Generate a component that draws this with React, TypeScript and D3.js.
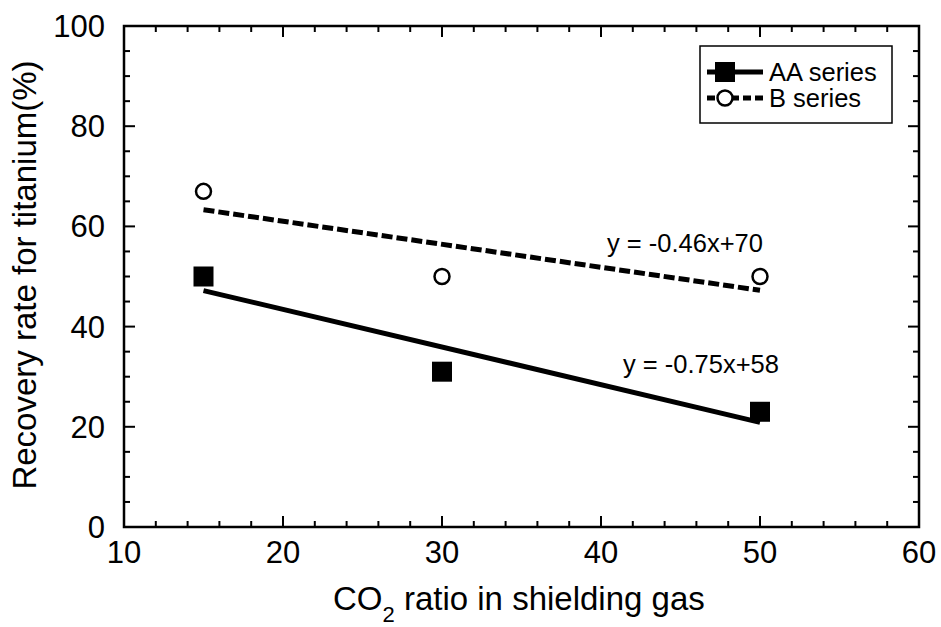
import React from "react";
import * as d3 from "d3";

const co2Ratio = [15, 30, 50];
const aaSeries = [50, 31, 23];
const bSeries = [67, 50, 50];
const xTicks = [10, 20, 30, 40, 50, 60];
const yTicks = [0, 20, 40, 60, 80, 100];
const aaEquation = "y = -0.75x+58";
const bEquation = "y = -0.46x+70";
const legendLabels = ["AA series", "B series"];

const W = 941;
const H = 627;
const FONT = "'Liberation Sans', Arial, Helvetica, sans-serif";

function fit(xs: number[], ys: number[]) {
  const mx = d3.mean(xs)!;
  const my = d3.mean(ys)!;
  let sxy = 0, sxx = 0;
  xs.forEach((x, i) => {
    sxy += (x - mx) * (ys[i] - my);
    sxx += (x - mx) * (x - mx);
  });
  const m = sxy / sxx;
  return { m, b: my - m * mx };
}

export default function App() {
  const x = d3.scaleLinear().domain([10, 60]).range([124, 919]);
  const y = d3.scaleLinear().domain([0, 100]).range([527, 26]);
  const x0 = x.range()[0], x1 = x.range()[1];
  const y0 = y.range()[0], y1 = y.range()[1];

  const xMinor = d3.range(10, 60.01, 2).filter((v) => v % 10 !== 0);
  const yMinor = d3.range(0, 100.01, 5).filter((v) => v % 20 !== 0);

  const aaFit = fit(co2Ratio, aaSeries);
  const bFit = fit(co2Ratio, bSeries);
  const xs = d3.extent(co2Ratio) as [number, number];
  const line = d3.line<number[]>().x((d) => x(d[0])).y((d) => y(d[1]));
  const aaLine = line(xs.map((v) => [v, aaFit.m * v + aaFit.b]));
  const bLine = line(xs.map((v) => [v, bFit.m * v + bFit.b]));

  const sq = 20;
  const axisW = 2.5;

  return (
    <svg width={W} height={H} style={{ position: "absolute", left: 0, top: 0, background: "#fff" }} fontFamily={FONT}>
      <rect width={W} height={H} fill="#fff" />
      {/* fit lines */}
      <path d={bLine!} fill="none" stroke="#000" strokeWidth={5} strokeDasharray="11 4" />
      <path d={aaLine!} fill="none" stroke="#000" strokeWidth={5} />
      {/* markers */}
      {co2Ratio.map((v, i) => (
        <rect key={"a" + i} x={x(v) - sq / 2} y={y(aaSeries[i]) - sq / 2} width={sq} height={sq} fill="#000" />
      ))}
      {co2Ratio.map((v, i) => (
        <circle key={"b" + i} cx={x(v)} cy={y(bSeries[i])} r={7.5} fill="#fff" stroke="#000" strokeWidth={2.5} />
      ))}
      {/* equations */}
      <text x={607} y={252} fontSize={25.5} fill="#000">{bEquation}</text>
      <text x={623} y={373} fontSize={25.5} fill="#000">{aaEquation}</text>
      {/* axes frame */}
      <rect x={x0} y={y1} width={x1 - x0} height={y0 - y1} fill="none" stroke="#000" strokeWidth={axisW} />
      {xTicks.map((v) => (
        <g key={"xt" + v}>
          <line x1={x(v)} x2={x(v)} y1={y0} y2={y0 - 11} stroke="#000" strokeWidth={2} />
          <line x1={x(v)} x2={x(v)} y1={y1} y2={y1 + 11} stroke="#000" strokeWidth={2} />
          <text x={x(v)} y={563} fontSize={31} textAnchor="middle" fill="#000">{v}</text>
        </g>
      ))}
      {xMinor.map((v) => (
        <g key={"xm" + v}>
          <line x1={x(v)} x2={x(v)} y1={y0} y2={y0 - 6} stroke="#000" strokeWidth={2} />
          <line x1={x(v)} x2={x(v)} y1={y1} y2={y1 + 6} stroke="#000" strokeWidth={2} />
        </g>
      ))}
      {yTicks.map((v) => (
        <g key={"yt" + v}>
          <line x1={x0} x2={x0 + 11} y1={y(v)} y2={y(v)} stroke="#000" strokeWidth={2} />
          <line x1={x1} x2={x1 - 11} y1={y(v)} y2={y(v)} stroke="#000" strokeWidth={2} />
          <text x={105} y={y(v) + 11} fontSize={31} textAnchor="end" fill="#000">{v}</text>
        </g>
      ))}
      {yMinor.map((v) => (
        <g key={"ym" + v}>
          <line x1={x0} x2={x0 + 6} y1={y(v)} y2={y(v)} stroke="#000" strokeWidth={2} />
          <line x1={x1} x2={x1 - 6} y1={y(v)} y2={y(v)} stroke="#000" strokeWidth={2} />
        </g>
      ))}
      {/* axis titles */}
      <text x={333} y={610} fontSize={33} fill="#000">
        CO<tspan fontSize={22} dy={12}>2</tspan>
        <tspan dy={-12}> ratio in shielding gas</tspan>
      </text>
      <text transform={`translate(36,275) rotate(-90)`} fontSize={33} textAnchor="middle" fill="#000">
        Recovery rate for titanium(%)
      </text>
      {/* legend */}
      <rect x={700} y={46} width={192} height={77} fill="#fff" stroke="#000" strokeWidth={1.5} />
      <line x1={707} x2={763} y1={72} y2={72} stroke="#000" strokeWidth={5} />
      <rect x={725 - sq / 2} y={72 - sq / 2} width={sq} height={sq} fill="#000" />
      <line x1={707} x2={763} y1={98} y2={98} stroke="#000" strokeWidth={5} strokeDasharray="8 4" />
      <circle cx={725} cy={98} r={7.5} fill="#fff" stroke="#000" strokeWidth={2.5} />
      <text x={769} y={81} fontSize={25.5} fill="#000">{legendLabels[0]}</text>
      <text x={769} y={107} fontSize={25.5} fill="#000">{legendLabels[1]}</text>
    </svg>
  );
}
